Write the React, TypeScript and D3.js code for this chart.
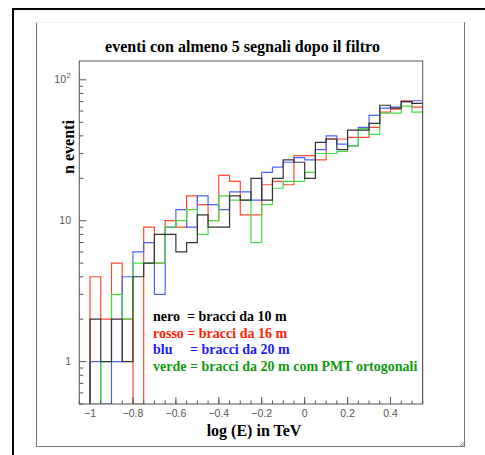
import React from 'react';
import * as d3 from 'd3';

// ---- data ----
const binStart = -1.0;
const binWidth = 0.05;
// counts per bin, bins from -1.00 to 0.55 in steps of 0.05
const nero = [2, 1, 2, 1, 4, 5, 8, 8, 6, 7, 11, 9, 9, 15, 14, 20, 14, 20, 27, 26, 20, 36, 38, 32, 44, 44, 49, 66, 63, 70, 68];
const rosso = [4, 2, 5, 2, 0, 9, 5, 10, 9, 15, 13, 10, 21, 19, 11, 11, 18, 19, 18, 29, 29, 27, 38, 38, 39, 39, 46, 59, 62, 71, 64];
const blu = [1, 0, 1, 4, 6, 7, 3, 9, 12, 9, 15, 13, 12, 16, 16, 14, 22, 24, 26, 28, 27, 32, 40, 35, 34, 46, 56, 63, 64, 70, 71];
const verde = [0, 1, 3, 2, 5, 5, 5, 9, 10, 12, 8, 10, 15, 14, 14, 7, 13, 17, 19, 19, 22, 30, 30, 31, 34, 45, 41, 58, 58, 65, 59];

const xTicks = [-1, -0.8, -0.6, -0.4, -0.2, 0, 0.2, 0.4];
const xTickLabels = ['\u22121', '\u22120.8', '\u22120.6', '\u22120.4', '\u22120.2', '0', '0.2', '0.4'];
const yMajor = [1, 10, 100];
const yMajorLabels = ['1', '10', '10'];

const title = 'eventi con almeno 5 segnali dopo il filtro';
const xTitle = 'log (E) in TeV';
const yTitle = 'n eventi';
const legendTexts = [
  'nero  = bracci da 10 m',
  'rosso = bracci da 16 m',
  'blu     = bracci da 20 m',
  'verde = bracci da 20 m com PMT ortogonali',
];

const seriesColors = ['#333333', '#ff4a30', '#4a62ff', '#45dd45'];
const legendColors = ['#000000', '#ff2200', '#1a1aff', '#119911'];

export default function App() {
  const L = 79.3, R = 422.7, T = 61, B = 404;
  const x = d3.scaleLinear().domain([-1.05, 0.55]).range([L, R]);
  const yMin = 0.5, yMax = 136;
  const y = d3.scaleLog().domain([yMin, yMax]).range([B, T]);

  const series = [rosso, blu, verde, nero];
  const colors = [seriesColors[1], seriesColors[2], seriesColors[3], seriesColors[0]];

  const line = d3
    .line<[number, number]>()
    .x((d) => x(d[0]))
    .y((d) => y(Math.max(yMin, d[1])))
    .curve(d3.curveStepAfter);

  const makePts = (vals: number[]): [number, number][] => {
    const pts: [number, number][] = [[binStart, yMin]];
    vals.forEach((v, i) => pts.push([binStart + i * binWidth, v]));
    pts.push([binStart + vals.length * binWidth, vals[vals.length - 1]]);
    pts.push([binStart + vals.length * binWidth, yMin]);
    return pts;
  };

  // minor ticks
  const xMinor: number[] = [];
  for (let v = -1.05; v <= 0.551; v += 0.05) xMinor.push(Math.round(v * 100) / 100);
  const yMinor: number[] = [];
  [0.1, 1, 10, 100].forEach((d) => {
    for (let k = 2; k <= 9; k++) {
      const v = d * k;
      if (v >= yMin && v <= yMax) yMinor.push(v);
    }
  });

  const axisColor = '#555';
  const labelFont = "'Liberation Sans', Arial, sans-serif";
  const serif = "'Liberation Serif', 'Times New Roman', serif";

  return (
    <svg width={485} height={455} style={{ position: 'absolute', left: 0, top: 0, background: '#fff' }}>
      <defs>
        <clipPath id="plotclip">
          <rect x={L} y={T} width={R - L} height={B - T} />
        </clipPath>
      </defs>
      {/* outer black frame */}
      <rect x={13} y={9} width={480} height={460} fill="#fff" stroke="#000" strokeWidth={2} />
      {/* inner panel */}
      <line x1={36.5} y1={22} x2={36.5} y2={447} stroke="#777" strokeWidth={1} />
      <line x1={36} y1={22.5} x2={465} y2={22.5} stroke="#eee" strokeWidth={1} />
      <line x1={464.5} y1={22} x2={464.5} y2={447} stroke="#777" strokeWidth={1} />
      <line x1={36} y1={446.5} x2={465} y2={446.5} stroke="#777" strokeWidth={1} />
      <line x1={460} y1={446} x2={464} y2={442} stroke="#999" strokeWidth={1} />
      <line x1={462} y1={446} x2={464} y2={444} stroke="#999" strokeWidth={1} />

      {/* title */}
      <text x={242.5} y={52} textAnchor="middle" fontFamily={serif} fontWeight="bold" fontSize={16} fill="#000">
        {title}
      </text>

      {/* histograms */}
      <g clipPath="url(#plotclip)">
        {series.map((s, i) => (
          <path key={i} d={line(makePts(s)) || ''} fill="none" stroke={colors[i]} strokeWidth={1.2} />
        ))}
      </g>

      {/* frame */}
      <rect x={L} y={T} width={R - L} height={B - T} fill="none" stroke={axisColor} strokeWidth={1} />

      {/* x ticks */}
      {xMinor.map((v, i) => (
        <line key={'xm' + i} x1={x(v)} x2={x(v)} y1={B} y2={B - 3.5} stroke={axisColor} strokeWidth={1} />
      ))}
      {xTicks.map((v, i) => (
        <line key={'xM' + i} x1={x(v)} x2={x(v)} y1={B} y2={B - 7} stroke={axisColor} strokeWidth={1} />
      ))}
      {xTicks.map((v, i) => (
        <text key={'xl' + i} x={x(v)} y={416.5} textAnchor="middle" fontFamily={labelFont} fontSize={10.5} fill="#555">
          {xTickLabels[i]}
        </text>
      ))}

      {/* y ticks */}
      {yMinor.map((v, i) => (
        <line key={'ym' + i} x1={L} x2={L + 4} y1={y(v)} y2={y(v)} stroke={axisColor} strokeWidth={1} />
      ))}
      {yMajor.map((v, i) => (
        <line key={'yM' + i} x1={L} x2={L + 7} y1={y(v)} y2={y(v)} stroke={axisColor} strokeWidth={1} />
      ))}
      {yMajor.map((v, i) => (
        <text key={'yl' + i} x={i === 2 ? 66 : 71} y={y(v) + 3.5} textAnchor="end" fontFamily={labelFont} fontSize={10.5} fill="#555">
          {yMajorLabels[i]}
        </text>
      ))}
      <text x={66.5} y={y(100) - 1.5} fontFamily={labelFont} fontSize={7.5} fill="#555">2</text>

      {/* axis titles */}
      <text x={254} y={436} textAnchor="middle" fontFamily={serif} fontWeight="bold" fontSize={16} fill="#000">
        {xTitle}
      </text>
      <text
        transform={`translate(74, 147) rotate(-90)`}
        textAnchor="middle"
        fontFamily={serif}
        fontWeight="bold"
        fontSize={16}
        fill="#000"
      >
        {yTitle}
      </text>

      {/* legend */}
      {legendTexts.map((t, i) => (
        <text
          key={'lg' + i}
          x={153}
          y={321 + i * 16.7}
          fontFamily={serif}
          fontWeight="bold"
          fontSize={14}
          fill={legendColors[i]}
          style={{ whiteSpace: 'pre' }}
        >
          {t}
        </text>
      ))}
    </svg>
  );
}
